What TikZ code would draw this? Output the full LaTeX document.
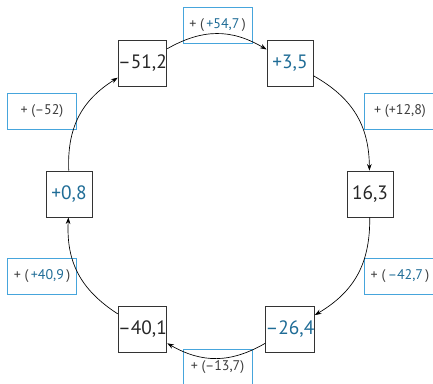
\documentclass[tikz,border=0pt]{standalone}
\usepackage{fontspec}
\setmainfont{PT Sans}
\usetikzlibrary{arrows.meta}
\definecolor{numblue}{RGB}{31,108,150}
\definecolor{frameblue}{RGB}{70,165,220}
\definecolor{txtgrey}{RGB}{60,60,60}

\begin{document}
\begin{tikzpicture}[x=0.75pt, y=0.75pt,
    valbox/.style={draw=black!80, line width=0.6pt, minimum size=34.5pt, inner sep=0pt, font=\fontsize{14.5}{16}\selectfont, text=black!85},
    opbox/.style={draw=frameblue, line width=0.7pt, minimum width=51.75pt, minimum height=27pt, inner sep=0pt, font=\fontsize{10.5}{12}\selectfont, text=txtgrey},
    flow/.style={-{Stealth[length=5pt,width=3.5pt]}, line width=0.5pt, bend left=30, looseness=1.05}]
    \useasboundingbox (0,0) rectangle (433,383);

    % Values round the circle
    \node[valbox] (v1) at (142.5,320) {--51,2};
    \node[valbox, text=numblue] (v2) at (290,320) {+3,5};
    \node[valbox] (v3) at (370,189) {16,3};
    \node[valbox, text=numblue] (v4) at (290,54) {--26,4};
    \node[valbox] (v5) at (142.5,54) {--40,1};
    \node[valbox, text=numblue] (v6) at (69,189) {+0,8};

    % Operations
    \node[opbox] (o12) at (217.5,358) {+ (\,\textcolor{numblue}{+54,7}\,)};
    \node[opbox, minimum width=54pt] (o23) at (400,272) {+ (+12,8)};
    \node[opbox, minimum width=54pt] (o34) at (400,106.5) {+ (\,\textcolor{numblue}{--42,7}\,)};
    \node[opbox] (o45) at (217.5,16) {+ (--13,7)};
    \node[opbox] (o56) at (42,106.5) {+ (\,\textcolor{numblue}{+40,9}\,)};
    \node[opbox] (o61) at (42,271.5) {+ (--52)};

    % Arrows
    \draw[flow] (v1) to (v2);
    \draw[flow] (v2) to (v3);
    \draw[flow] (v3) to (v4);
    \draw[flow] (v4) to (v5);
    \draw[flow] (v5) to (v6);
    \draw[flow] (v6) to (v1);
\end{tikzpicture}
\end{document}
